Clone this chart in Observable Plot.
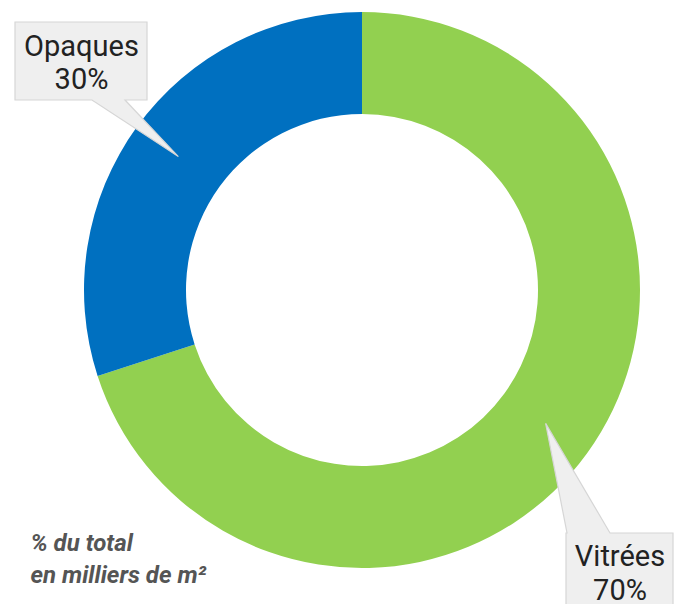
<!DOCTYPE html>
<html><head><meta charset="utf-8">
<script src="https://cdn.jsdelivr.net/npm/d3@7"></script>
<script src="https://cdn.jsdelivr.net/npm/@observablehq/plot@0.6"></script>
<style>body{margin:0;background:#fff;} #chart svg{display:block;}</style>
</head><body><div id="chart"></div>
<script>
const categories = ["Vitrées", "Opaques"];
const shares = [70, 30];
const shareLabels = ["70%", "30%"];
const sliceColors = ["#92D050", "#0070C0"];
const captionLines = ["% du total", "en milliers de m²"];

const W = 678, H = 604;
const center = {x: 362, y: 290};
const outerR = 278, innerR = 176;
const callouts = {
  "Vitrées": {box: [566, 533, 673, 616], base: [567, 610], side: "top", tx: 619.5, ty: [565, 599]},
  "Opaques": {box: [15, 22, 147, 100], base: [92, 125], side: "bottom", tx: 81, ty: [55, 88]}
};

const rows = categories.map((c, i) => ({category: c, share: shares[i], label: shareLabels[i]}));
const colorOf = d3.scaleOrdinal(categories, sliceColors);
const arcs = d3.pie().value(d => d.share).sort(null)(rows);
const arcGen = d3.arc().innerRadius(innerR).outerRadius(outerR);

function donut(index, scales) {
  const g = d3.create("svg:g");
  const cx = scales.x(center.x), cy = scales.y(center.y);
  g.selectAll("path").data(arcs).join("path")
    .attr("transform", `translate(${cx},${cy})`)
    .attr("d", arcGen)
    .attr("fill", d => colorOf(d.data.category));
  return g.node();
}

function calloutShapes(index, scales) {
  const g = d3.create("svg:g");
  const cx = scales.x(center.x), cy = scales.y(center.y);
  for (const a of arcs) {
    const c = callouts[a.data.category];
    const [cxo, cyo] = arcGen.centroid(a);
    const tip = [cx + cxo, cy + cyo];
    const [l, t, r, b] = c.box.map((v, i) => i % 2 ? scales.y(v) : scales.x(v));
    const b0 = scales.x(c.base[0]), b1 = scales.x(c.base[1]);
    let d;
    if (c.side === "bottom") {
      d = `M${l},${t}L${r},${t}L${r},${b}L${b1},${b}L${tip[0]},${tip[1]}L${b0},${b}L${l},${b}Z`;
    } else {
      d = `M${l},${t}L${b0},${t}L${tip[0]},${tip[1]}L${b1},${t}L${r},${t}L${r},${b}L${l},${b}Z`;
    }
    g.append("path").attr("d", d).attr("fill", "#EFEFEF").attr("stroke", "#D6D6D6").attr("stroke-width", 1.2).attr("stroke-linejoin", "miter");
  }
  return g.node();
}

const chart = Plot.plot({
  width: W, height: H, margin: 0,
  x: {domain: [0, W], range: [0, W], axis: null},
  y: {domain: [0, H], range: [0, H], axis: null},
  style: {fontFamily: "Roboto, sans-serif", background: "#fff"},
  marks: [
    donut,
    calloutShapes,
    Plot.text(rows, {x: d => callouts[d.category].tx, y: d => callouts[d.category].ty[0], text: "category",
      fontSize: 29, fill: "#222", textAnchor: "middle", lineAnchor: "bottom"}),
    Plot.text(rows, {x: d => callouts[d.category].tx, y: d => callouts[d.category].ty[1], text: "label",
      fontSize: 29, fill: "#222", textAnchor: "middle", lineAnchor: "bottom"}),
    Plot.text(captionLines, {x: () => 30, y: (d, i) => 550 + i * 32, text: d => d,
      fontSize: 24, fontWeight: "bold", fontStyle: "italic", fill: "#555", textAnchor: "start", lineAnchor: "bottom"})
  ]
});
document.getElementById("chart").append(chart);
</script>
</body></html>
